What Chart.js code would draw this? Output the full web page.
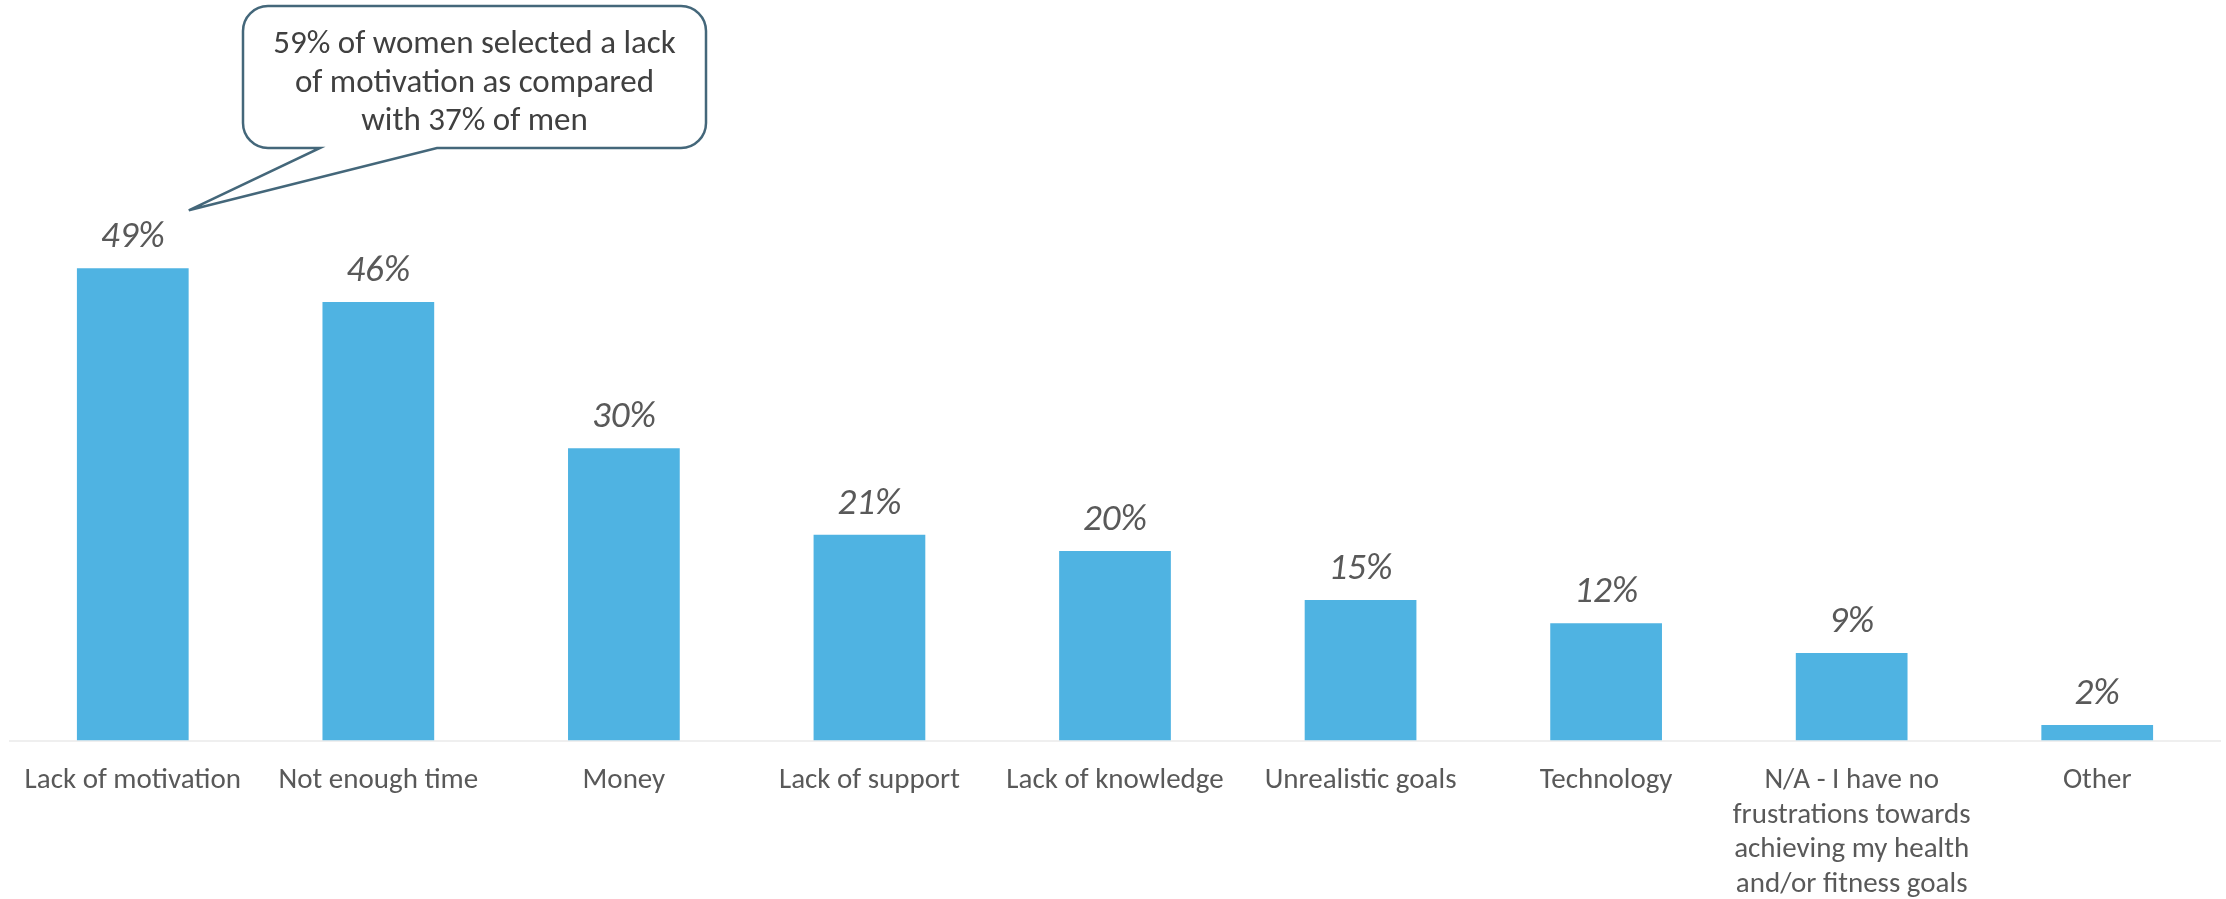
<!DOCTYPE html>
<html>
<head>
<meta charset="utf-8">
<script src="https://cdn.jsdelivr.net/npm/chart.js@4"></script>
<style>
  html, body { margin: 0; padding: 0; background: #ffffff; overflow: hidden; }
  #wrap { position: relative; width: 2226px; height: 899px; }
</style>
</head>
<body>
<div id="wrap"><canvas id="c"></canvas></div>
<script>
const categories = [
  "Lack of motivation",
  "Not enough time",
  "Money",
  "Lack of support",
  "Lack of knowledge",
  "Unrealistic goals",
  "Technology",
  ["N/A - I have no", "frustrations towards", "achieving my health", "and/or fitness goals"],
  "Other"
];
const values = [49.1, 45.6, 30.4, 21.4, 19.7, 14.6, 12.2, 9.1, 1.6];
const valueLabels = ["49%", "46%", "30%", "21%", "20%", "15%", "12%", "9%", "2%"];
const calloutLines = ["59% of women selected a lack", "of motivation as compared", "with 37% of men"];

const FONT = "Carlito, Calibri, Lato, 'Open Sans', sans-serif";
const BAR_COLOR = "#4FB3E2";
const LABEL_COLOR = "#595959";
const CALLOUT_COLOR = "#44677A";

const valueLabelPlugin = {
  id: "valueLabels",
  afterDatasetsDraw(chart) {
    const ctx = chart.ctx;
    const meta = chart.getDatasetMeta(0);
    ctx.save();
    ctx.font = "italic 37px " + FONT;
    ctx.fillStyle = LABEL_COLOR;
    ctx.textAlign = "center";
    ctx.textBaseline = "alphabetic";
    meta.data.forEach((bar, i) => {
      ctx.fillText(valueLabels[i], bar.x, bar.y - 21);
    });
    ctx.restore();
  }
};

const calloutPlugin = {
  id: "callout",
  afterDraw(chart) {
    const ctx = chart.ctx;
    const bar = chart.getDatasetMeta(0).data[0];
    const tipX = bar.x + 56, tipY = bar.y - 58;
    const L = 243, T = 6, R = 706, B = 148, r = 25;
    const p1 = 320, p2 = 437;
    ctx.save();
    ctx.beginPath();
    ctx.moveTo(L + r, T);
    ctx.lineTo(R - r, T);
    ctx.arcTo(R, T, R, T + r, r);
    ctx.lineTo(R, B - r);
    ctx.arcTo(R, B, R - r, B, r);
    ctx.lineTo(p2, B);
    ctx.lineTo(tipX, tipY);
    ctx.lineTo(p1, B);
    ctx.lineTo(L + r, B);
    ctx.arcTo(L, B, L, B - r, r);
    ctx.lineTo(L, T + r);
    ctx.arcTo(L, T, L + r, T, r);
    ctx.closePath();
    ctx.fillStyle = "#ffffff";
    ctx.fill();
    ctx.lineWidth = 2.5;
    ctx.strokeStyle = CALLOUT_COLOR;
    ctx.lineJoin = "miter";
    ctx.stroke();
    ctx.font = "33px " + FONT;
    ctx.fillStyle = "#404040";
    ctx.textAlign = "center";
    ctx.textBaseline = "middle";
    const cx = (L + R) / 2;
    calloutLines.forEach((t, i) => ctx.fillText(t, cx, 45 + i * 38.5));
    ctx.restore();
  }
};

new Chart(document.getElementById("c"), {
  type: "bar",
  data: {
    labels: categories,
    datasets: [{
      data: values,
      backgroundColor: BAR_COLOR,
      borderWidth: 0,
      barPercentage: 0.455,
      categoryPercentage: 1.0
    }]
  },
  options: {
    responsive: true,
    maintainAspectRatio: false,
    animation: false,
    layout: { padding: { left: 10, right: 6, top: 0, bottom: 0 } },
    plugins: {
      legend: { display: false },
      tooltip: { enabled: false },
      title: { display: false }
    },
    scales: {
      x: {
        grid: { display: false, drawTicks: false },
        border: { display: true, color: "#EFEFEF", width: 2 },
        ticks: {
          color: LABEL_COLOR,
          font: { family: FONT, size: 29, lineHeight: "34.5px" },
          padding: 23,
          maxRotation: 0,
          minRotation: 0,
          autoSkip: false
        },
        afterFit(scale) { scale.height = 158.5; }
      },
      y: {
        display: false,
        min: 0,
        max: 77
      }
    }
  },
  plugins: [valueLabelPlugin, calloutPlugin]
});
</script>
</body>
</html>
